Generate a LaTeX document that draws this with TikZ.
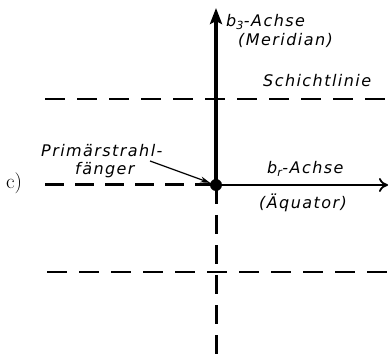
\documentclass[tikz,border=0pt]{standalone}
\usepackage{fontspec}
\setsansfont{DejaVu Sans}[LetterSpace=9]
\usetikzlibrary{arrows.meta}
\begin{document}
\begin{tikzpicture}[x=1pt,y=-1pt,
  lbl/.style={font=\fontsize{16}{18}\selectfont\sffamily\itshape, inner sep=0pt, anchor=base west},
  thindash/.style={line width=1.4pt, dash pattern=on 20pt off 12pt},
  thickdash/.style={line width=3pt, dash pattern=on 19pt off 11pt}]
\useasboundingbox (0,0) rectangle (389,361);
\node[circle, fill, inner sep=0pt, minimum size=12pt] (O) at (216,185) {};
\coordinate (top) at (216,8);
\coordinate (right) at (388,185);
\coordinate (left) at (45,185);
\coordinate (bottom) at (216,360);
\coordinate (u1) at (45,99);
\coordinate (u2) at (389,99);
\coordinate (l1) at (47,272);
\coordinate (l2) at (389,272);
% dashed lines
\draw[thindash] (u1) -- (u2);
\draw[thindash] (l1) -- (l2);
\draw[thickdash] (left) -- (O.center);
\draw[thickdash] (O.center) -- (bottom);
% axes
\draw[line width=3.2pt, -{Stealth[length=16pt,width=12pt,inset=3pt]}] (O.center) -- (top);
\draw[line width=2pt, -{To[length=9pt,width=14pt,line width=1.8pt]}] (O.center) -- (right);
% labels
\node[lbl] (b3) at (226,27) {b\textsubscript{3}-Achse};
\node[lbl] (mer) at (238,46) {(Meridian)};
\node[lbl] (sch) at (263,87) {Schichtlinie};
\node[lbl] (prim) at (41,157) {Primärstrahl-};
\node[lbl] (fae) at (75,175) {fänger};
\node[inner sep=0pt, anchor=base west, font=\fontsize{21}{24}\selectfont\rmfamily\upshape] (c) at (6,189) {c)};
\node[lbl] (br) at (267,174) {b\textsubscript{r}-Achse};
\node[lbl] (aeq) at (259,208) {(Äquator)};
\coordinate (pa) at (150,161);
\draw[line width=1.2pt, -{Stealth[length=10pt,width=6pt]}] (pa) -- (O);
\end{tikzpicture}
\end{document}
